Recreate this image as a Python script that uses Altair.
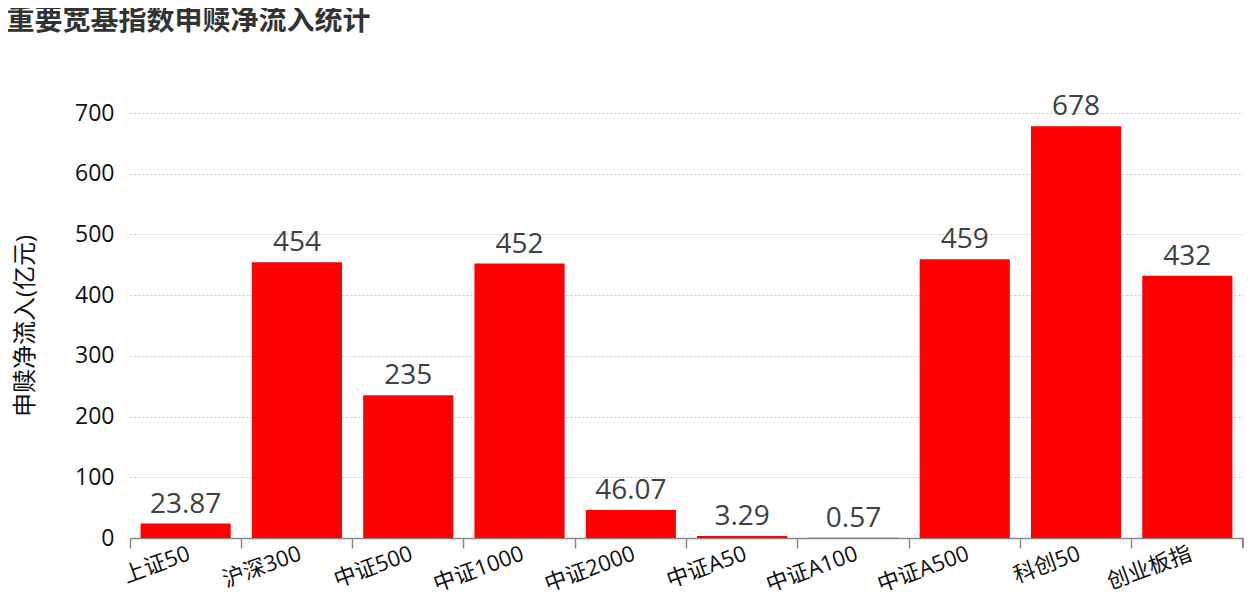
import altair as alt
import pandas as pd

categories = ["上证50", "沪深300", "中证500", "中证1000", "中证2000", "中证A50", "中证A100", "中证A500", "科创50", "创业板指"]
values = [23.87, 454, 235, 452, 46.07, 3.29, 0.57, 459, 678, 432]
labels = ["23.87", "454", "235", "452", "46.07", "3.29", "0.57", "459", "678", "432"]
y_ticks = [0, 100, 200, 300, 400, 500, 600, 700]

df = pd.DataFrame({"cat": categories, "val": values, "lab": labels})

W, H = 1113, 425
FONT = "Open Sans, Noto Sans CJK SC"

x_enc = alt.X("cat:N", sort=categories, title=None,
              scale=alt.Scale(paddingInner=0, paddingOuter=0),
              axis=alt.Axis(labelAngle=-20, labelAlign="right", labelBaseline="top",
                            labelFontSize=22, labelColor="#111", labelPadding=-5,
                            bandPosition=0, tickSize=10, tickColor="#888",
                            domainColor="#888", domainWidth=1.5, tickWidth=1.5,
                            labelFont=FONT, grid=False))
y_enc = alt.Y("val:Q", title="申赎净流入(亿元)",
              scale=alt.Scale(domain=[0, 700], nice=False),
              axis=alt.Axis(values=y_ticks, labelFontSize=23, labelColor="#111",
                            labelFont=FONT, labelPadding=16, ticks=False, domain=False,
                            grid=True, gridDash=[2, 2], gridColor="#c8c8c8",
                            titleFontSize=24, titleFont=FONT, titleFontWeight="normal",
                            titleColor="#111", titlePadding=37))

bars = alt.Chart(df).mark_bar(color="#ff0000", width=alt.RelativeBandSize(0.81)).encode(
    x=x_enc, y=y_enc)

text = alt.Chart(df).mark_text(dy=-11, baseline="alphabetic", fontSize=28, color="#404040",
                               font=FONT).encode(
    x=alt.X("cat:N", sort=categories), y="val:Q", text="lab:N")

end_tick = alt.Chart(df).mark_rule(color="#888", strokeWidth=1.5).encode(
    x=alt.value(W), y=alt.value(H), y2=alt.value(H + 10))

chart = alt.layer(bars, text, end_tick).properties(
    width=W, height=H,
    title=alt.TitleParams("重要宽基指数申赎净流入统计", anchor="start", frame="bounds", dx=-7,
                          offset=57, fontSize=28, fontWeight="bold", color="#333",
                          font="Noto Sans CJK SC"),
    autosize=alt.AutoSizeParams(type="none"),
    padding={"left": 122, "top": 105, "right": 5, "bottom": 52},
).configure_view(stroke=None)

chart.save("out.html", embed_options={"renderer": "svg", "actions": False})
